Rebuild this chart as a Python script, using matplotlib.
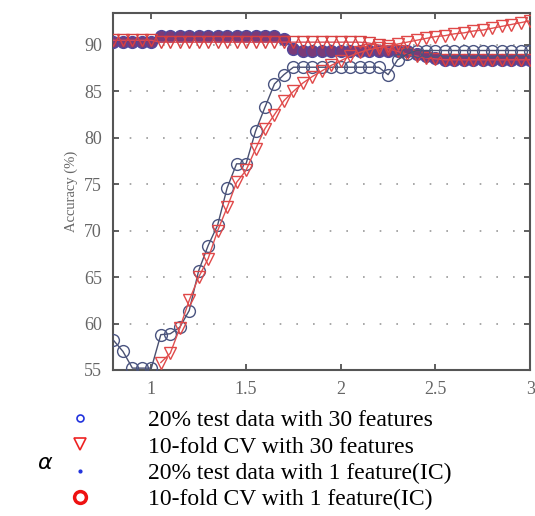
import matplotlib
matplotlib.use('Agg')
from matplotlib import pyplot as plt
from matplotlib.lines import Line2D

# alpha values
alpha = [0.80, 0.85, 0.90, 0.95, 1.00, 1.05, 1.10, 1.15, 1.20, 1.25,
         1.30, 1.35, 1.40, 1.45, 1.50, 1.55, 1.60, 1.65, 1.70, 1.75,
         1.80, 1.85, 1.90, 1.95, 2.00, 2.05, 2.10, 2.15, 2.20, 2.25,
         2.30, 2.35, 2.40, 2.45, 2.50, 2.55, 2.60, 2.65, 2.70, 2.75,
         2.80, 2.85, 2.90, 2.95, 3.00]

test30 = [58.2, 57.0, 55.2, 55.2, 55.2, 58.8, 58.9, 59.6, 61.4, 65.7,
          68.4, 70.6, 74.6, 77.2, 77.2, 80.7, 83.3, 85.8, 86.8, 87.6,
          87.6, 87.6, 87.6, 87.6, 87.6, 87.6, 87.6, 87.6, 87.6, 86.8,
          88.4, 89.0, 89.4, 89.4, 89.4, 89.4, 89.4, 89.4, 89.4, 89.4,
          89.4, 89.4, 89.4, 89.4, 89.4]

cv30 = [None, None, None, None, None, 55.8, 56.8, 59.5, 62.5, 65.0,
        67.0, 70.0, 72.5, 75.2, 76.5, 78.8, 81.0, 82.5, 84.0, 85.0,
        85.9, 86.6, 87.2, 87.8, 88.3, 88.8, 89.2, 89.5, 89.7, 89.9,
        90.1, 90.3, 90.5, 90.7, 90.9, 91.0, 91.2, 91.3, 91.5, 91.6,
        91.8, 92.0, 92.2, 92.4, 92.6]

test1 = [90.3, 90.3, 90.3, 90.3, 90.3, 91.0, 91.0, 91.0, 91.0, 91.0,
         91.0, 91.0, 91.0, 91.0, 91.0, 91.0, 91.0, 91.0, 90.6, 89.6,
         89.4, 89.4, 89.4, 89.4, 89.4, 89.4, 89.4, 89.4, 89.4, 89.4,
         89.4, 89.3, 89.0, 88.8, 88.6, 88.4, 88.4, 88.4, 88.4, 88.4,
         88.4, 88.4, 88.4, 88.4, 88.4]

cv1 = [90.5, 90.5, 90.5, 90.5, 90.5, 90.3, 90.3, 90.3, 90.3, 90.3,
       90.3, 90.3, 90.3, 90.3, 90.3, 90.3, 90.3, 90.3, 90.3, 90.3,
       90.3, 90.3, 90.3, 90.3, 90.3, 90.3, 90.3, 90.2, 90.0, 89.6,
       89.3, 89.0, 88.8, 88.6, 88.5, 88.4, 88.4, 88.4, 88.4, 88.4,
       88.4, 88.4, 88.4, 88.4, 88.4]

cvx = [a for a, v in zip(alpha, cv30) if v is not None]
cvy = [v for v in cv30 if v is not None]

plt.rcParams['font.family'] = ['Liberation Serif', 'DejaVu Serif']

fig = plt.figure(figsize=(5.35, 5.16), dpi=100)
ax = fig.add_axes([0.211, 0.283, 0.780, 0.692])

ax.plot(alpha, test1, color='#6a3a80', linewidth=1.0, marker='o', markersize=8.5,
        markerfacecolor='#7a3a78', markeredgecolor='#50489c', markeredgewidth=1.0, zorder=3)
ax.plot(alpha, cv1, color='#d84a5a', linewidth=1.0, marker='v', markersize=8,
        markerfacecolor='none', markeredgecolor='#d84040', markeredgewidth=1.0, zorder=4)
ax.plot(alpha, test30, color='#4a5070', linewidth=1.0, marker='o', markersize=8.5,
        markerfacecolor='none', markeredgecolor='#4a5480', markeredgewidth=1.0, zorder=5)
ax.plot(cvx, cvy, color='#e05050', linewidth=1.0, marker='v', markersize=8,
        markerfacecolor='none', markeredgecolor='#e04848', markeredgewidth=1.0, zorder=6)

ax.set_xlim(0.797, 3.0)
ax.set_ylim(55, 93.45)
ax.set_xticks([1, 1.5, 2, 2.5, 3])
ax.set_xticklabels(['1', '1.5', '2', '2.5', '3'])
ax.set_yticks([55, 60, 65, 70, 75, 80, 85, 90])
ax.yaxis.grid(True, linestyle=(0, (1, 9)), color='#999999', linewidth=1.2)
ax.tick_params(direction='in', top=True, right=True, length=4, width=1.2,
               colors='#444444', labelcolor='#666666', labelsize=13, pad=8)
for s in ax.spines.values():
    s.set_color('#555555')
    s.set_linewidth(1.5)
ax.set_ylabel('Accuracy (%)', fontsize=10.5, color='#666666', labelpad=4)

handles = [
    Line2D([], [], linestyle='none', marker='o', markersize=5, markerfacecolor='none',
           markeredgecolor='#2233dd', markeredgewidth=1.2),
    Line2D([], [], linestyle='none', marker='v', markersize=9, markerfacecolor='none',
           markeredgecolor='#ee2222', markeredgewidth=1.2),
    Line2D([], [], linestyle='none', marker='.', markersize=4, color='#2233dd'),
    Line2D([], [], linestyle='none', marker='o', markersize=8.5, markerfacecolor='none',
           markeredgecolor='#ee1111', markeredgewidth=2.5),
]
labels = ['20% test data with 30 features', '10-fold CV with 30 features',
          '20% test data with 1 feature(IC)', '10-fold CV with 1 feature(IC)']
fig.legend(handles, labels, loc='upper left', bbox_to_anchor=(0.11, 0.224),
           frameon=False, fontsize=17, handlelength=1.0, handletextpad=2.37,
           labelspacing=0.2, borderaxespad=0)

fig.text(0.085, 0.103, r'$\alpha$', fontsize=16, family='DejaVu Sans',
         ha='center', va='center')

fig.savefig('out.png', dpi=100)
